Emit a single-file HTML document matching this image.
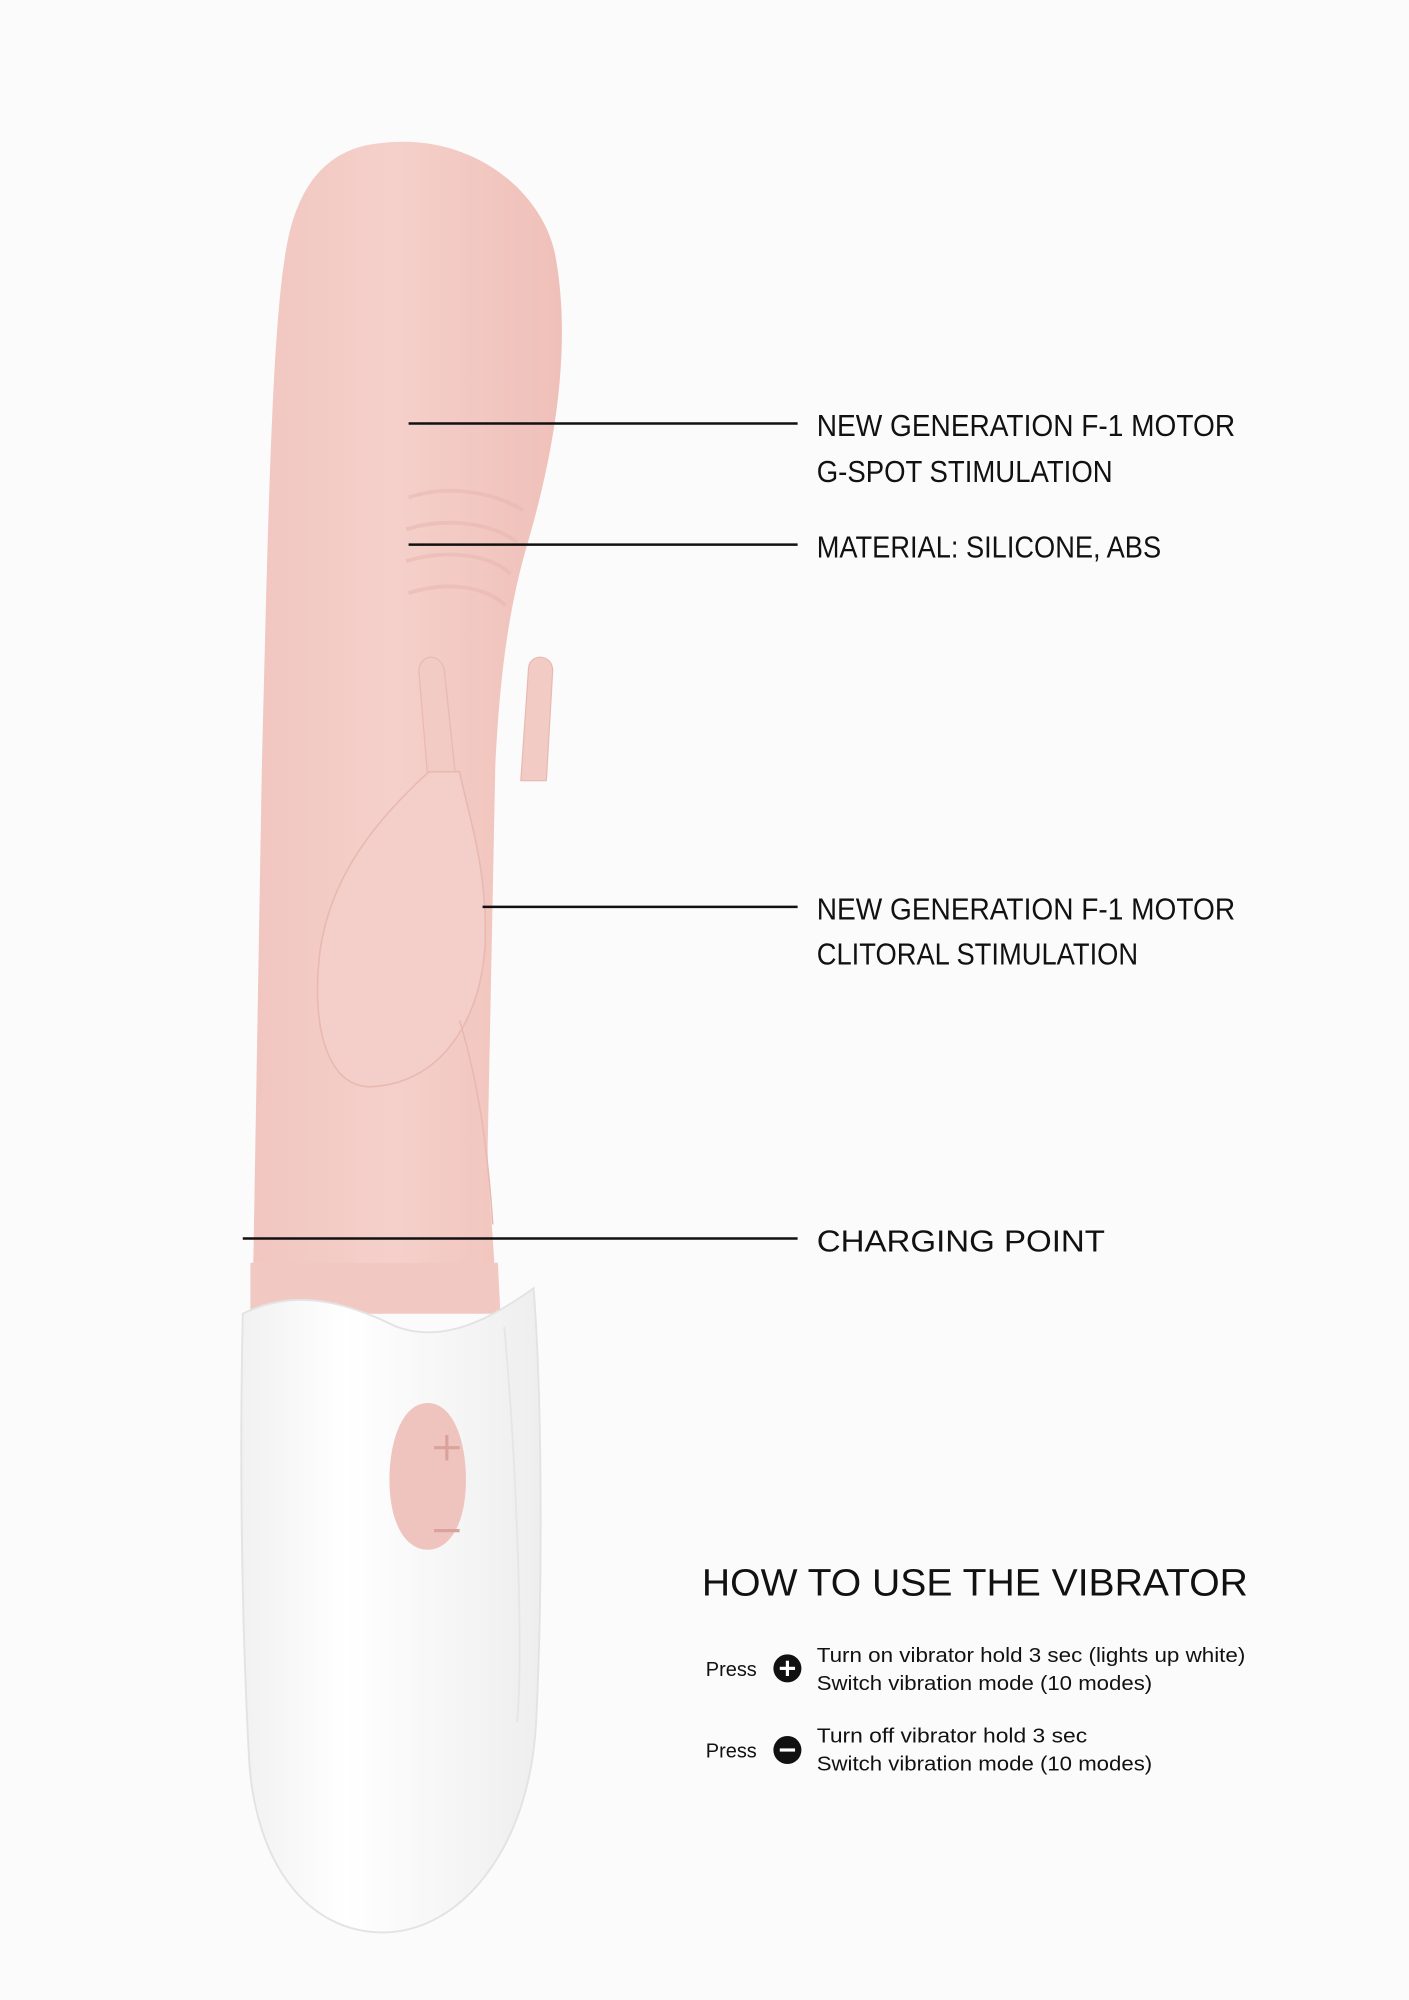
<!DOCTYPE html>
<html><head><meta charset="utf-8"><style>
html,body{margin:0;padding:0;background:#fbfbfb;}
svg{display:block;}
</style></head><body>
<svg width="1409" height="2000" viewBox="0 0 1104 1568" xmlns="http://www.w3.org/2000/svg">
<rect width="1104" height="1568" fill="#fbfbfb"/>
<defs>
<linearGradient id="pk" x1="0" x2="1" y1="0" y2="0">
<stop offset="0" stop-color="#f1c6c0"/><stop offset="0.45" stop-color="#f5d0ca"/><stop offset="1" stop-color="#efc0b9"/>
</linearGradient>
<linearGradient id="wh" x1="0" x2="1">
<stop offset="0" stop-color="#f1f1f1"/><stop offset="0.35" stop-color="#ffffff"/><stop offset="1" stop-color="#eeeeee"/>
</linearGradient>
</defs>
<!-- shaft -->
<path d="M300 112 C370 104 425 150 435 200 C448 270 435 350 415 420 C400 470 392 520 388 600 L382 900 C382 930 386 960 388 1005 L198 1005 L205 600 C210 400 213 250 225 190 C235 140 260 115 300 112 Z" fill="url(#pk)"/>
<!-- ridges -->
<g fill="none" stroke="#e8b7b0" stroke-width="3" opacity="0.55">
<path d="M320 390 C350 380 385 385 410 400"/>
<path d="M318 415 C350 405 385 410 405 425"/>
<path d="M318 440 C350 430 385 435 400 450"/>
<path d="M320 465 C350 455 382 460 396 475"/>
</g>
<!-- ears -->
<path d="M328 525 C330 512 345 512 348 525 L358 620 L336 622 Z" fill="#f3cbc5" stroke="#e9bab3" stroke-width="1"/>
<path d="M414 525 C414 512 432 512 433 525 L428 612 L408 612 Z" fill="#f3cbc5" stroke="#e9bab3" stroke-width="1"/>
<!-- rabbit body -->
<path d="M336 605 L360 605 C367 640 382 680 380 740 C377 800 345 850 290 852 C258 852 244 810 250 750 C257 690 292 645 336 605 Z" fill="#f4cec8" stroke="#e8b8b1" stroke-width="1.2"/>
<path d="M360 800 C375 850 382 900 386 960" fill="none" stroke="#e8b8b1" stroke-width="1.2"/>
<!-- pink collar -->
<path d="M196 990 L390 990 L392 1030 L196 1030 Z" fill="#f2c8c2"/>
<!-- handle -->
<path d="M190 1030 C230 1010 270 1020 310 1040 C350 1055 390 1030 418 1010 C425 1100 425 1250 420 1350 C415 1450 360 1515 300 1515 C240 1515 200 1460 195 1380 C188 1250 188 1120 190 1030 Z" fill="url(#wh)" stroke="#e3e3e3" stroke-width="1.5"/>
<path d="M395 1040 C405 1150 410 1300 405 1350" fill="none" stroke="#e6e6e6" stroke-width="1.5"/>
<!-- button -->
<path d="M335 1100 C355 1100 365 1130 365 1160 C365 1195 352 1215 335 1215 C318 1215 305 1195 305 1160 C305 1130 315 1100 335 1100 Z" fill="#f0c4be"/>
<g stroke="#d9a29b" stroke-width="2.5"><line x1="340" y1="1135" x2="360" y2="1135"/><line x1="350" y1="1125" x2="350" y2="1145"/><line x1="340" y1="1200" x2="360" y2="1200"/></g>
<!-- connectors -->
<g stroke="#111" stroke-width="2">
<line x1="320" y1="332" x2="625" y2="332"/>
<line x1="320" y1="427" x2="625" y2="427"/>
<line x1="378" y1="711" x2="625" y2="711"/>
<line x1="190" y1="971" x2="625" y2="971"/>
</g>
<g font-family="Liberation Sans, sans-serif" font-size="24" fill="#111">
<text x="640" y="342" textLength="328" lengthAdjust="spacingAndGlyphs">NEW GENERATION F-1 MOTOR</text>
<text x="640" y="378" textLength="232" lengthAdjust="spacingAndGlyphs">G-SPOT STIMULATION</text>
<text x="640" y="437" textLength="270" lengthAdjust="spacingAndGlyphs">MATERIAL: SILICONE, ABS</text>
<text x="640" y="721" textLength="328" lengthAdjust="spacingAndGlyphs">NEW GENERATION F-1 MOTOR</text>
<text x="640" y="756" textLength="252" lengthAdjust="spacingAndGlyphs">CLITORAL STIMULATION</text>
<text x="640" y="981" textLength="226" lengthAdjust="spacingAndGlyphs">CHARGING POINT</text>
</g>
<text x="550" y="1251" font-family="Liberation Sans, sans-serif" font-size="30" fill="#111" textLength="428" lengthAdjust="spacingAndGlyphs">HOW TO USE THE VIBRATOR</text>
<g font-family="Liberation Sans, sans-serif" font-size="16" fill="#111">
<text x="553" y="1314" textLength="40" lengthAdjust="spacingAndGlyphs">Press</text>
<text x="553" y="1378" textLength="40" lengthAdjust="spacingAndGlyphs">Press</text>
<text x="640" y="1303" textLength="336" lengthAdjust="spacingAndGlyphs">Turn on vibrator hold 3 sec (lights up white)</text>
<text x="640" y="1325" textLength="263" lengthAdjust="spacingAndGlyphs">Switch vibration mode (10 modes)</text>
<text x="640" y="1366" textLength="212" lengthAdjust="spacingAndGlyphs">Turn off vibrator hold 3 sec</text>
<text x="640" y="1388" textLength="263" lengthAdjust="spacingAndGlyphs">Switch vibration mode (10 modes)</text>
</g>
<circle cx="617" cy="1308" r="11" fill="#111"/>
<circle cx="617" cy="1372" r="11" fill="#111"/>
<g stroke="#fff" stroke-width="2.5"><line x1="611" y1="1308" x2="623" y2="1308"/><line x1="617" y1="1302" x2="617" y2="1314"/><line x1="611" y1="1372" x2="623" y2="1372"/></g>
</svg>
</body></html>
